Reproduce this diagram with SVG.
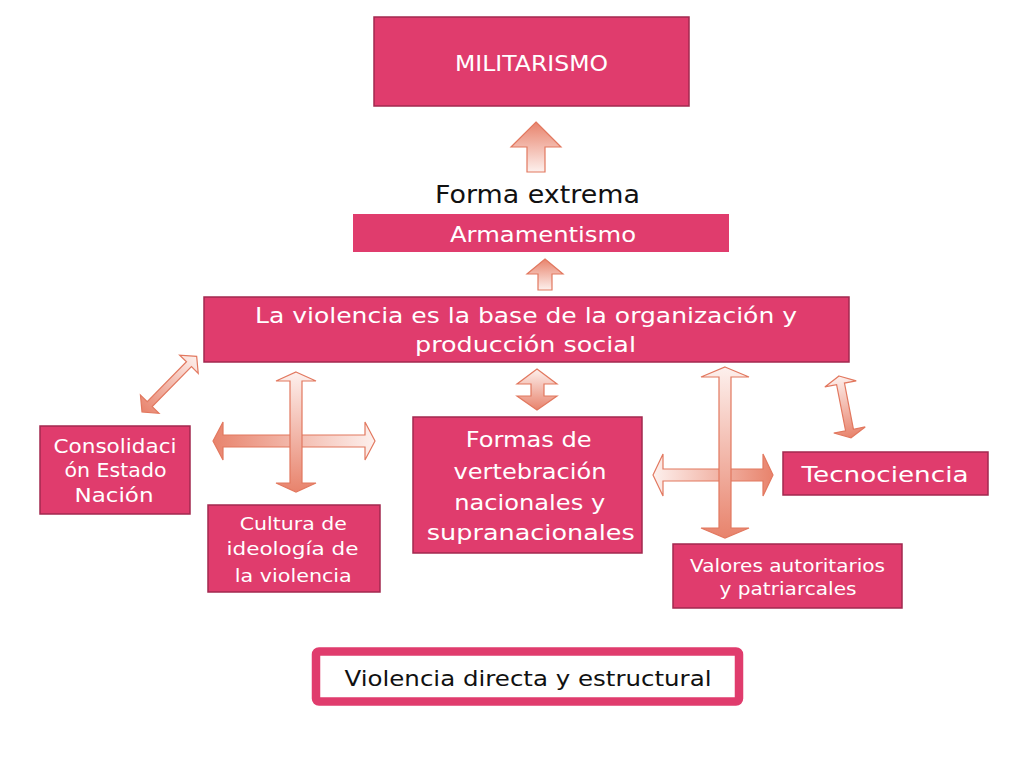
<svg xmlns="http://www.w3.org/2000/svg" width="1024" height="768" viewBox="0 0 1024 768">
<defs>
<linearGradient id="gUp" x1="0" y1="1" x2="0" y2="0"><stop offset="0" stop-color="#fdf0ed"/><stop offset="1" stop-color="#e8836c"/></linearGradient>
<linearGradient id="gDown" x1="0" y1="0" x2="0" y2="1"><stop offset="0" stop-color="#fdf0ed"/><stop offset="1" stop-color="#e8836c"/></linearGradient>
<linearGradient id="gLeft" x1="1" y1="0" x2="0" y2="0"><stop offset="0" stop-color="#fdf0ed"/><stop offset="1" stop-color="#e8836c"/></linearGradient>
<linearGradient id="gRight" x1="0" y1="0" x2="1" y2="0"><stop offset="0" stop-color="#fdf0ed"/><stop offset="1" stop-color="#e8836c"/></linearGradient>
<style>
.box{fill:#e03c6d;stroke:#a2294f;stroke-width:1.5}
.bar{fill:#e03c6d}
.t{font-family:"DejaVu Sans","Liberation Sans",sans-serif;fill:#ffffff;text-anchor:middle}
.k{font-family:"DejaVu Sans","Liberation Sans",sans-serif;fill:#111111;text-anchor:middle}
.arr{stroke:#e2785f;stroke-width:1.2;stroke-linejoin:miter}
</style>
</defs>
<rect width="1024" height="768" fill="#ffffff"/>

<g id="connectors">
<polygon class="arr" fill="url(#gUp)" points="536,122 561,147 545,147 545,172 527,172 527,147 511,147"/>
<polygon class="arr" fill="url(#gUp)" points="545,259 563,274 552,274 552,290 538,290 538,274 527,274"/>
<polygon class="arr" fill="url(#gDown)" points="537,369 557,384 544,384 544,396 557,396 537,410 517,396 531,396 531,384 517,384"/>
<polygon class="arr" fill="url(#gLeft)" points="213,441 223,422 223,435 365,435 365,422 375,441 365,460 365,447 223,447 223,460"/>
<polygon class="arr" fill="url(#gDown)" points="296,372 316,381 302,381 302,483 316,483 296,492 276,483 290,483 290,381 276,381"/>
<polygon class="arr" fill="url(#gRight)" points="653,475 663,454 663,469 763,469 763,454 773,475 763,496 763,481 663,481 663,496"/>
<polygon class="arr" fill="url(#gDown)" points="725,367 749,377 731,377 731,528 749,528 725,538 701,528 719,528 719,377 701,377"/>
<polygon class="arr" fill="url(#gLeft)" transform="translate(142,412) rotate(-45.5)" points="0,0 11,-13 11,-3.5 67,-3.5 67,-13 78,0 67,13 67,3.5 11,3.5 11,13"/>
<polygon class="arr" fill="url(#gDown)" transform="translate(839,376) rotate(-11)" points="0,0 16,8 4,8 4,55 16,55 0,63 -16,55 -4,55 -4,8 -16,8"/>
</g>

<g id="militarismo">
<rect class="box" x="374" y="17" width="315" height="89"/>
<text class="t" x="531.5" y="71" font-size="22" textLength="153" lengthAdjust="spacingAndGlyphs">MILITARISMO</text>
</g>

<g id="forma-extrema">
<text class="k" x="537.5" y="203" font-size="25" textLength="205" lengthAdjust="spacingAndGlyphs">Forma extrema</text>
</g>

<g id="armamentismo">
<rect class="bar" x="353" y="214" width="376" height="38"/>
<text class="t" x="543" y="242" font-size="21" textLength="186" lengthAdjust="spacingAndGlyphs">Armamentismo</text>
</g>

<g id="violencia-base">
<rect class="box" x="204" y="297" width="645" height="65"/>
<text class="t" x="526" y="323" font-size="21" textLength="542" lengthAdjust="spacingAndGlyphs">La violencia es la base de la organización y</text>
<text class="t" x="525.5" y="352" font-size="21" textLength="221" lengthAdjust="spacingAndGlyphs">producción social</text>
</g>

<g id="consolidacion">
<rect class="box" x="40" y="426" width="150" height="88"/>
<text class="t" x="115" y="453" font-size="20" textLength="123" lengthAdjust="spacingAndGlyphs">Consolidaci</text>
<text class="t" x="115.5" y="477" font-size="20" textLength="102" lengthAdjust="spacingAndGlyphs">ón Estado</text>
<text class="t" x="114" y="502" font-size="20" textLength="79" lengthAdjust="spacingAndGlyphs">Nación</text>
</g>

<g id="cultura">
<rect class="box" x="208" y="505" width="172" height="87"/>
<text class="t" x="293.3" y="530" font-size="18" textLength="107" lengthAdjust="spacingAndGlyphs">Cultura de</text>
<text class="t" x="292.5" y="555" font-size="18" textLength="132" lengthAdjust="spacingAndGlyphs">ideología de</text>
<text class="t" x="293.3" y="581.5" font-size="18" textLength="117" lengthAdjust="spacingAndGlyphs">la violencia</text>
</g>

<g id="formas">
<rect class="box" x="413" y="417" width="229" height="136"/>
<text class="t" x="528.7" y="447" font-size="22" textLength="126" lengthAdjust="spacingAndGlyphs">Formas de</text>
<text class="t" x="530" y="479" font-size="22" textLength="153" lengthAdjust="spacingAndGlyphs">vertebración</text>
<text class="t" x="529.7" y="510" font-size="22" textLength="151" lengthAdjust="spacingAndGlyphs">nacionales y</text>
<text class="t" x="530.8" y="540" font-size="22" textLength="208" lengthAdjust="spacingAndGlyphs">supranacionales</text>
</g>

<g id="tecnociencia">
<rect class="box" x="783" y="452" width="205" height="43"/>
<text class="t" x="885" y="482" font-size="22" textLength="167" lengthAdjust="spacingAndGlyphs">Tecnociencia</text>
</g>

<g id="valores">
<rect class="box" x="673" y="544" width="229" height="64"/>
<text class="t" x="787.5" y="572" font-size="18" textLength="195" lengthAdjust="spacingAndGlyphs">Valores autoritarios</text>
<text class="t" x="788" y="595" font-size="18" textLength="137" lengthAdjust="spacingAndGlyphs">y patriarcales</text>
</g>

<g id="violencia-directa">
<rect x="316" y="651.5" width="423" height="50" rx="3" fill="#ffffff" stroke="#e03c6d" stroke-width="8.5"/>
<text class="k" x="528" y="686" font-size="21" textLength="367" lengthAdjust="spacingAndGlyphs">Violencia directa y estructural</text>
</g>
</svg>
